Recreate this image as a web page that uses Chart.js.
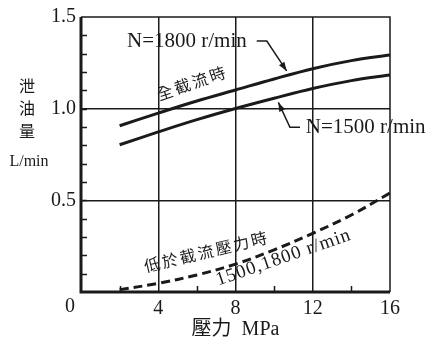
<!DOCTYPE html>
<html>
<head>
<meta charset="utf-8">
<script src="https://cdn.jsdelivr.net/npm/chart.js@4.4.1/dist/chart.umd.min.js"></script>
<style>
html,body{margin:0;padding:0;background:#fff;}
#wrap{width:429px;height:342px;position:relative;}
</style>
</head>
<body>
<div id="wrap"><canvas id="c" width="429" height="342"></canvas></div>
<script>
// ---- data ----
const pressure = [2, 4, 6, 8, 10, 12, 14, 16];
const flow1800 = [0.907, 0.976, 1.042, 1.102, 1.162, 1.218, 1.262, 1.293];
const flow1500 = [0.803, 0.873, 0.940, 1.001, 1.057, 1.110, 1.153, 1.184];
const flowLow  = [0.013, 0.047, 0.093, 0.152, 0.230, 0.320, 0.420, 0.540];
const xTicks = [0, 4, 8, 12, 16];
const yTicks = [0, 0.5, 1.0, 1.5];

const SERIF = "'Liberation Serif', 'Times New Roman', serif";
const CJK = "'Liberation Serif', 'Noto Sans CJK TC', serif";
const INK = '#1a1a1a';

function pts(ys){ return pressure.map((x,i)=>({x:x, y:ys[i]})); }

const decor = {
  id:'decor',
  afterDraw(chart){
    const ctx = chart.ctx, a = chart.chartArea;
    const xs = chart.scales.x, ys = chart.scales.y;
    const X = v => xs.getPixelForValue(v), Y = v => ys.getPixelForValue(v);
    ctx.save();
    ctx.strokeStyle = INK; ctx.fillStyle = INK;
    // frame
    ctx.lineWidth = 1.5;
    ctx.beginPath(); ctx.moveTo(a.left, a.top); ctx.lineTo(a.right, a.top); ctx.lineTo(a.right, a.bottom); ctx.stroke();
    ctx.lineWidth = 3;
    ctx.beginPath(); ctx.moveTo(a.left, a.top); ctx.lineTo(a.left, a.bottom); ctx.lineTo(a.right, a.bottom); ctx.stroke();
    // minor ticks
    ctx.lineWidth = 1.5;
    ctx.beginPath();
    for (let k = 1; k < 15; k++) {
      const py = Math.round(Y(k/10)) + 0.5;
      ctx.moveTo(a.left, py); ctx.lineTo(a.left + 6, py);
    }
    [2, 6, 10, 14].forEach(v => {
      const px = Math.round(X(v)) + 0.5;
      ctx.moveTo(px, a.bottom); ctx.lineTo(px, a.bottom - 6);
    });
    ctx.stroke();

    // corner zero
    ctx.font = '20px ' + SERIF; ctx.textAlign = 'center'; ctx.textBaseline = 'middle';
    ctx.fillText('0', a.left - 11, a.bottom + 15);

    // y axis title (vertical)
    ctx.font = '16px ' + CJK;
    ctx.fillText('泄', 27, 88);
    ctx.fillText('油', 27, 110);
    ctx.fillText('量', 27, 133);
    ctx.font = '16px ' + SERIF;
    ctx.fillText('L/min', 29, 162);

    // N labels
    ctx.font = '21px ' + SERIF; ctx.textAlign = 'left';
    ctx.fillText('N=1800 r/min', X(2.38), Y(1.366));
    ctx.fillText('N=1500 r/min', X(11.64), Y(0.896));

    function arrow(p0, p1, tip){
      ctx.lineWidth = 1.5;
      ctx.beginPath();
      ctx.moveTo(X(p0[0]), Y(p0[1])); ctx.lineTo(X(p1[0]), Y(p1[1])); ctx.lineTo(X(tip[0]), Y(tip[1]));
      ctx.stroke();
      const tx = X(tip[0]), ty = Y(tip[1]);
      const ang = Math.atan2(ty - Y(p1[1]), tx - X(p1[0]));
      const L = 9, W = 3.2;
      ctx.beginPath();
      ctx.moveTo(tx, ty);
      ctx.lineTo(tx - L*Math.cos(ang) + W*Math.sin(ang), ty - L*Math.sin(ang) - W*Math.cos(ang));
      ctx.lineTo(tx - L*Math.cos(ang) - W*Math.sin(ang), ty - L*Math.sin(ang) + W*Math.cos(ang));
      ctx.closePath(); ctx.fill();
    }
    arrow([9.10, 1.369], [9.62, 1.369], [10.65, 1.206]);
    arrow([11.34, 0.898], [10.82, 0.898], [10.22, 1.034]);

    function rotText(txt, x, y, deg, font, spacing){
      ctx.save();
      ctx.translate(X(x), Y(y));
      ctx.rotate(deg * Math.PI / 180);
      ctx.font = font;
      if ('letterSpacing' in ctx) ctx.letterSpacing = spacing + 'px';
      ctx.textAlign = 'center'; ctx.textBaseline = 'middle';
      ctx.fillText(txt, spacing/2, 0);
      ctx.restore();
    }
    rotText('全截流時', 5.73, 1.129, -19, '16px ' + CJK, 2.5);
    rotText('低於截流壓力時', 6.47, 0.209, -13.5, '16px ' + CJK, 2.3);
    rotText('1500,1800 r/min', 10.47, 0.186, -19.1, '19px ' + SERIF, 1);
    ctx.restore();
  }
};

new Chart(document.getElementById('c'), {
  type: 'line',
  data: {
    datasets: [
      { label:'N=1800', data: pts(flow1800), borderColor: INK, borderWidth: 3, pointRadius: 0, tension: 0.35, fill:false },
      { label:'N=1500', data: pts(flow1500), borderColor: INK, borderWidth: 3, pointRadius: 0, tension: 0.35, fill:false },
      { label:'low', data: pts(flowLow), borderColor: INK, borderWidth: 3, borderDash:[9,5], pointRadius: 0, tension: 0.35, fill:false }
    ]
  },
  options: {
    responsive: false,
    animation: false,
    devicePixelRatio: 1,
    layout: { padding: { left: 0, right: 39, top: 16, bottom: 0 } },
    plugins: { legend: { display: false }, tooltip: { enabled: false } },
    scales: {
      x: {
        type: 'linear', min: 0, max: 16,
        afterBuildTicks: s => { s.ticks = xTicks.map(v => ({value: v})); },
        afterFit: s => { s.height = 50; },
        border: { display: false },
        grid: { drawTicks: false, lineWidth: 1.5, color: c => (c.tick && c.tick.value > 0 && c.tick.value < 16) ? INK : 'rgba(0,0,0,0)' },
        ticks: { padding: 5, color: INK, font: { family: SERIF, size: 20 }, maxRotation: 0,
                 callback: v => v === 0 ? '' : String(v) },
        title: { display: true, text: '壓力  MPa', color: INK, font: { family: CJK, size: 20 }, padding: { top: 0, bottom: 0 } }
      },
      y: {
        type: 'linear', min: 0, max: 1.5,
        afterBuildTicks: s => { s.ticks = yTicks.map(v => ({value: v})); },
        afterFit: s => { s.width = 81; },
        border: { display: false },
        grid: { drawTicks: false, lineWidth: 1.5, color: c => (c.tick && c.tick.value > 0 && c.tick.value < 1.5) ? INK : 'rgba(0,0,0,0)' },
        ticks: { padding: 5, color: INK, font: { family: SERIF, size: 20 },
                 callback: v => v === 0 ? '' : v.toFixed(1) }
      }
    }
  },
  plugins: [decor]
});
</script>
</body>
</html>
